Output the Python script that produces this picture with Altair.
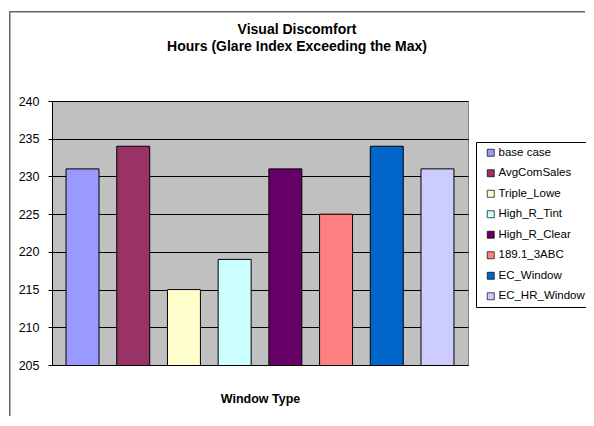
import altair as alt
import pandas as pd

categories = ["base case", "AvgComSales", "Triple_Lowe", "High_R_Tint",
              "High_R_Clear", "189.1_3ABC", "EC_Window", "EC_HR_Window"]
hours = [231, 234, 215, 219, 231, 225, 234, 231]
colors = ["#9999FF", "#993366", "#FFFFCC", "#CCFFFF",
          "#660066", "#FF8080", "#0066CC", "#CCCCFF"]
y_ticks = [205, 210, 215, 220, 225, 230, 235, 240]

df = pd.DataFrame({"window": categories, "hours": hours})
FONT = "Liberation Sans"

frame_df = pd.DataFrame({"a": [0]})
border_left = alt.Chart(frame_df).mark_rect(color="#666666", clip=False).encode(
    x=alt.value(-43), x2=alt.value(-41.5), y=alt.value(-90), y2=alt.value(320)
)
border_top = alt.Chart(frame_df).mark_rect(color="#666666", clip=False).encode(
    x=alt.value(-43), x2=alt.value(533), y=alt.value(-90), y2=alt.value(-88.5)
)

bars = alt.Chart(df).mark_bar(stroke="black", strokeWidth=1, clip=True).encode(
    x=alt.X("window:N", sort=categories,
            scale=alt.Scale(paddingInner=0.35, paddingOuter=0.277),
            axis=alt.Axis(title="Window Type", labels=False, ticks=False,
                          domainColor="black", titleFont=FONT, titleFontSize=12.5,
                          titleFontWeight="bold", titleColor="black", titlePadding=27)),
    y=alt.Y("hours:Q", scale=alt.Scale(domain=[205, 240], zero=False, nice=False),
            axis=alt.Axis(title=None, values=y_ticks, grid=True, gridColor="black",
                          gridWidth=1, gridOpacity=1, tickSize=4, tickColor="black",
                          domainColor="black", labelFont=FONT, labelFontSize=12.5,
                          labelColor="black", labelPadding=9)),
    color=alt.Color("window:N", sort=categories,
                    scale=alt.Scale(domain=categories, range=colors),
                    legend=alt.Legend(title=None, orient="none", legendX=424, legendY=41,
                                      strokeColor="black", fillColor="white", padding=5,
                                      symbolOffset=4,
                                      symbolType="square", symbolSize=49,
                                      symbolStrokeColor="black", symbolStrokeWidth=0.7,
                                      symbolOpacity=1, labelFont=FONT, labelFontSize=11.5,
                                      labelColor="black", labelOffset=2, rowPadding=7.5)),
)

chart = alt.layer(border_left, border_top, bars).properties(
    width=416, height=264,
    title=alt.TitleParams(["Visual Discomfort", "Hours (Glare Index Exceeding the Max)"],
                          font=FONT, fontSize=14, fontWeight="bold", color="black",
                          anchor="middle", frame="group", dx=37, offset=-43, lineHeight=17),
    autosize=alt.AutoSizeParams(type="none"),
    padding={"left": 44, "top": 93, "right": 118, "bottom": 51},
    background="white",
).configure_view(fill="#C0C0C0", stroke="#808080", strokeWidth=1)

chart.save("out.html", embed_options={"renderer": "svg", "actions": False})
